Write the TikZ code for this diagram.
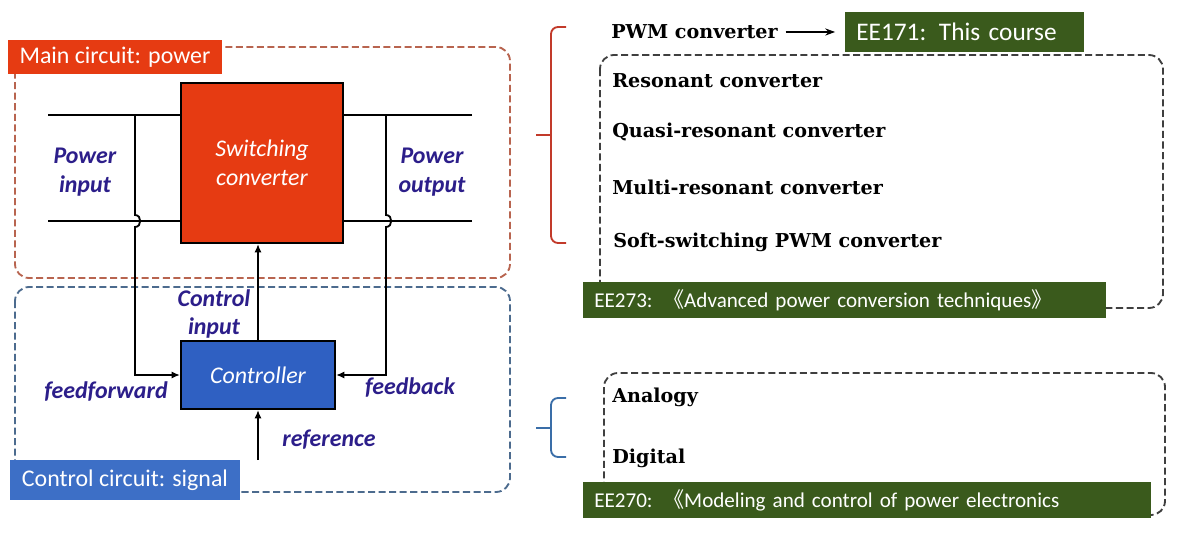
\documentclass[tikz,border=0pt]{standalone}
\usepackage{fontspec}
\setmainfont{Carlito}
\newfontfamily\cjk{Noto Sans CJK SC}
\newfontfamily\itemfont{DejaVu Serif}
\usetikzlibrary{arrows.meta}

\definecolor{pwrred}{HTML}{E63B12}
\definecolor{pwrdash}{HTML}{B8644F}
\definecolor{ctrlblue}{HTML}{2F60C2}
\definecolor{sigblue}{HTML}{3D6FC6}
\definecolor{sigdash}{HTML}{4C6B8E}
\definecolor{lblblue}{HTML}{2C1E8A}
\definecolor{coursegreen}{HTML}{3A5A1C}
\definecolor{grpdash}{HTML}{3F3F3F}
\definecolor{bracered}{HTML}{C23A2A}
\definecolor{braceblue}{HTML}{3A6EA8}

\begin{document}
\begin{tikzpicture}[
    x=0.025cm, y=-0.025cm,
    block/.style={draw=black, line width=1.3pt, inner sep=0pt, align=center, text=white, font=\fontsize{17}{20.5}\selectfont\itshape},
    tag/.style={inner sep=0pt, text=white, font=\fontsize{17}{20}\selectfont},
    course/.style={fill=coursegreen, text=white, inner xsep=0.275cm, inner ysep=0pt, align=left, anchor=west, font=\fontsize{15}{18}\selectfont},
    sig/.style={text=lblblue, align=center, inner sep=0pt, font=\fontsize{17}{20.5}\selectfont\bfseries\itshape},
    item/.style={anchor=west, inner sep=0pt, font=\itemfont\bfseries\fontsize{13.6}{16}\selectfont},
    wire/.style={line width=1.3pt},
    flow/.style={wire, -{Latex[length=6pt,width=5pt]}},
    zone/.style={line width=1.3pt, rounded corners=10pt, dash pattern=on 5pt off 2.5pt},
]
    \useasboundingbox[fill=white] (0,0) rectangle (1188,537);

    % Zones
    \draw[zone, pwrdash] (15,47) rectangle (510,278);
    \draw[zone, sigdash] (15,287) rectangle (510,492);
    \node[tag, fill=pwrred, minimum width=5.35cm, minimum height=0.85cm] (mainTag) at (115,57) {Main circuit: power};
    \node[tag, fill=sigblue, minimum width=5.75cm, minimum height=1.0cm] (ctrlTag) at (125,480) {Control circuit: signal};

    % Blocks
    \node[block, fill=pwrred, minimum width=4.05cm, minimum height=4.0cm] (conv) at (262,163) {Switching\\converter};
    \node[block, fill=ctrlblue, minimum width=3.85cm, minimum height=1.7cm] (ctrl) at (258,375) {Controller};

    % Power lines
    \coordinate (inA) at (48,115);
    \coordinate (inB) at (48,221);
    \coordinate (outA) at (472,115);
    \coordinate (outB) at (472,221);
    \draw[wire] (inA) -- (inA -| conv.west);
    \draw[wire] (inB) -- (inB -| conv.west);
    \draw[wire] (outA) -- (outA -| conv.east);
    \draw[wire] (outB) -- (outB -| conv.east);

    % Feedforward, feedback, control
    \coordinate (ffTap) at (135,115);
    \coordinate (fbTap) at (386,115);
    \coordinate (refIn) at (258,460);
    \draw[flow] (ffTap) -- (135,215) .. controls (142,215) and (142,227) .. (135,227) |- (ctrl.west);
    \draw[flow] (fbTap) -- (386,215) .. controls (393,215) and (393,227) .. (386,227) |- (ctrl.east);
    \draw[flow] (ctrl.north) -- (ctrl.north |- conv.south);
    \draw[flow] (refIn) -- (ctrl.south);

    % Signal labels
    \node[sig] (pin) at (85,172) {Power\\input};
    \node[sig] (pout) at (432,172) {Power\\output};
    \node[sig] (cin) at (214,314) {Control\\input};
    \node[sig] (ff) at (106,392) {feedforward};
    \node[sig] (fb) at (410,388) {feedback};
    \node[sig] (ref) at (329,440) {reference};

    % Power circuit branch
    \draw[bracered, line width=1.3pt, rounded corners=5pt] (566,27) -- (551,27) -- (551,243) -- (566,243);
    \draw[bracered, line width=1.3pt] (536,135) -- (551,135);
    \draw[zone, grpdash] (600,55) rectangle (1163,308);
    \node[item] (pwm) at (611,32) {PWM converter};
    \node[course, text width=5.425cm, minimum height=1.0cm, font=\fontsize{18}{20}\selectfont] (ee171) at (845,32) {EE171: This course};
    \draw[line width=1.2pt, -{Stealth[length=7pt,width=5pt]}, shorten <=5.5pt, shorten >=7pt] (pwm.east) -- (ee171.west);
    \node[item] (res) at (612,81) {Resonant converter};
    \node[item] (qres) at (612,132) {Quasi-resonant converter};
    \node[item] (mres) at (612,187) {Multi-resonant converter};
    \node[item] (soft) at (613,242) {Soft-switching PWM converter};
    \node[course, text width=12.525cm, minimum height=0.875cm] (ee273) at (583,300) {EE273: {\cjk 《}Advanced power conversion techniques{\cjk 》}};

    % Control circuit branch
    \draw[braceblue, line width=1.3pt, rounded corners=5pt] (566,398) -- (551,398) -- (551,457) -- (566,457);
    \draw[braceblue, line width=1.3pt] (536,428) -- (551,428);
    \draw[zone, grpdash] (604,373) rectangle (1165,515);
    \node[item] (ana) at (612,397) {Analogy};
    \node[item] (dig) at (612,458) {Digital};
    \node[course, text width=13.65cm, minimum height=0.875cm] (ee270) at (583,500) {EE270: {\cjk 《}Modeling and control of power electronics};
\end{tikzpicture}
\end{document}
